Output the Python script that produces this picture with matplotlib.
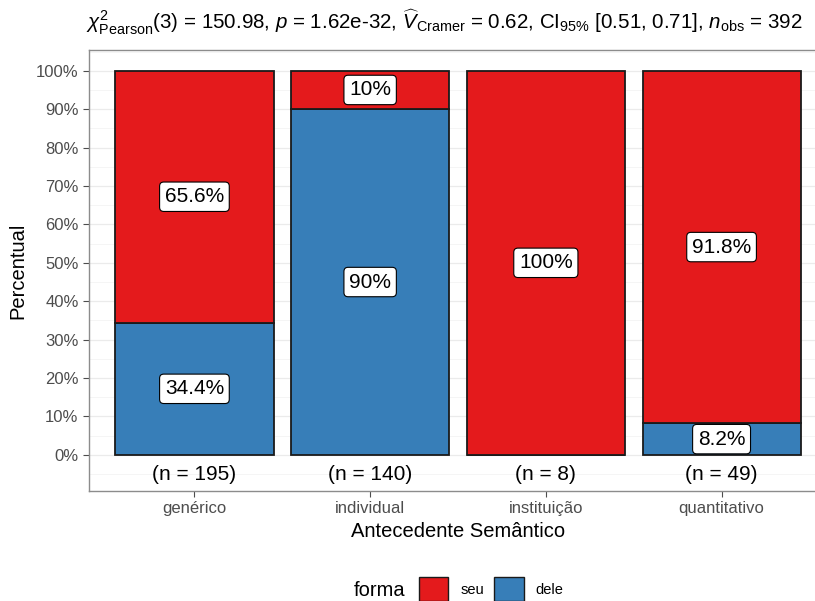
import numpy as np
import matplotlib
matplotlib.use("Agg")
import matplotlib.pyplot as plt
from matplotlib.patches import Patch
from matplotlib.ticker import MultipleLocator, PercentFormatter

plt.rcParams['font.family'] = ['Liberation Sans', 'DejaVu Sans']
plt.rcParams['mathtext.fontset'] = 'custom'
plt.rcParams['mathtext.rm'] = 'Liberation Sans'
plt.rcParams['mathtext.it'] = 'Liberation Sans:italic'
plt.rcParams['mathtext.bf'] = 'Liberation Sans:bold'

# data
categorias = ['genérico', 'individual', 'instituição', 'quantitativo']
n_obs = [195, 140, 8, 49]
dele = [34.4, 90.0, 0.0, 8.2]
seu = [65.6, 10.0, 100.0, 91.8]
rotulos_dele = ['34.4%', '90%', '', '8.2%']
rotulos_seu = ['65.6%', '10%', '100%', '91.8%']

cor_seu = '#E41A1C'
cor_dele = '#377EB8'

W, H = 815, 601
fig = plt.figure(figsize=(W / 100, H / 100), dpi=100)
ax = fig.add_axes([89 / W, 1 - 491 / H, (827 - 89) / W, (491 - 50) / H])

x = np.arange(1, len(categorias) + 1)
d = np.array(dele) / 100
s = np.array(seu) / 100

ax.bar(x, d, width=0.9, color=cor_dele, edgecolor='#1a1a1a', linewidth=1.3, zorder=3)
ax.bar(x, s, bottom=d, width=0.9, color=cor_seu, edgecolor='#1a1a1a', linewidth=1.3, zorder=3)

caixa = dict(boxstyle='round,pad=0.25,rounding_size=0.2', fc='white', ec='black', lw=0.8)
for xi, di, si, ld, ls in zip(x, d, s, rotulos_dele, rotulos_seu):
    if ld:
        ax.text(xi, di / 2, ld, ha='center', va='center', fontsize=15, bbox=caixa, zorder=4)
    if ls:
        ax.text(xi, di + si / 2, ls, ha='center', va='center', fontsize=15, bbox=caixa, zorder=4)

for xi, n in zip(x, n_obs):
    ax.text(xi, -0.05, f'(n = {n})', ha='center', va='center', fontsize=15, color='black')

ax.set_xlim(0.4, 4.6)
ax.set_ylim(-0.094, 1.054)
ax.set_xticks(x)
ax.set_xticklabels(categorias)
ax.yaxis.set_major_locator(MultipleLocator(0.1))
ax.yaxis.set_minor_locator(MultipleLocator(0.05))
ax.yaxis.set_major_formatter(PercentFormatter(1.0, decimals=0))
ax.set_yticks(np.arange(0, 1.01, 0.1))

ax.grid(axis='y', which='major', color='#EBEBEB', linewidth=0.9, zorder=0)
ax.grid(axis='y', which='minor', color='#F4F4F4', linewidth=0.6, zorder=0)
ax.set_axisbelow(True)

ax.tick_params(axis='both', which='major', labelsize=12, labelcolor='#4D4D4D',
               color='#4D4D4D', length=4, width=0.8)
ax.tick_params(axis='y', which='minor', length=0)
for sp in ax.spines.values():
    sp.set_color('#8C8C8C')
    sp.set_linewidth(1.0)

ax.set_xlabel('Antecedente Semântico', fontsize=14.5, labelpad=4)
ax.set_ylabel('Percentual', fontsize=14.5, labelpad=6)

titulo = (r'$\chi^2_{\mathrm{Pearson}}$(3) = 150.98, $p$ = 1.62e-32, '
          r'$\widehat{V}_{\mathrm{Cramer}}$ = 0.62, CI$_{95\%}$ [0.51, 0.71], '
          r'$n_{\mathrm{obs}}$ = 392')
fig.text(444 / W, 1 - 22 / H, titulo, ha='center', va='center', fontsize=14.8)

# legenda
fig.text(380 / W, 1 - 590 / H, 'forma', ha='center', va='center', fontsize=14.5)
handles = [Patch(facecolor=cor_seu, edgecolor='#1a1a1a', label='seu'),
           Patch(facecolor=cor_dele, edgecolor='#1a1a1a', label='dele')]
fig.legend(handles=handles, loc='center', bbox_to_anchor=(491 / W, 1 - 589 / H),
           ncol=2, frameon=False, fontsize=10.5, handlelength=2.05, handleheight=2.1,
           handletextpad=0.8, columnspacing=0.7, borderpad=0)

fig.savefig('out.png', dpi=100)
